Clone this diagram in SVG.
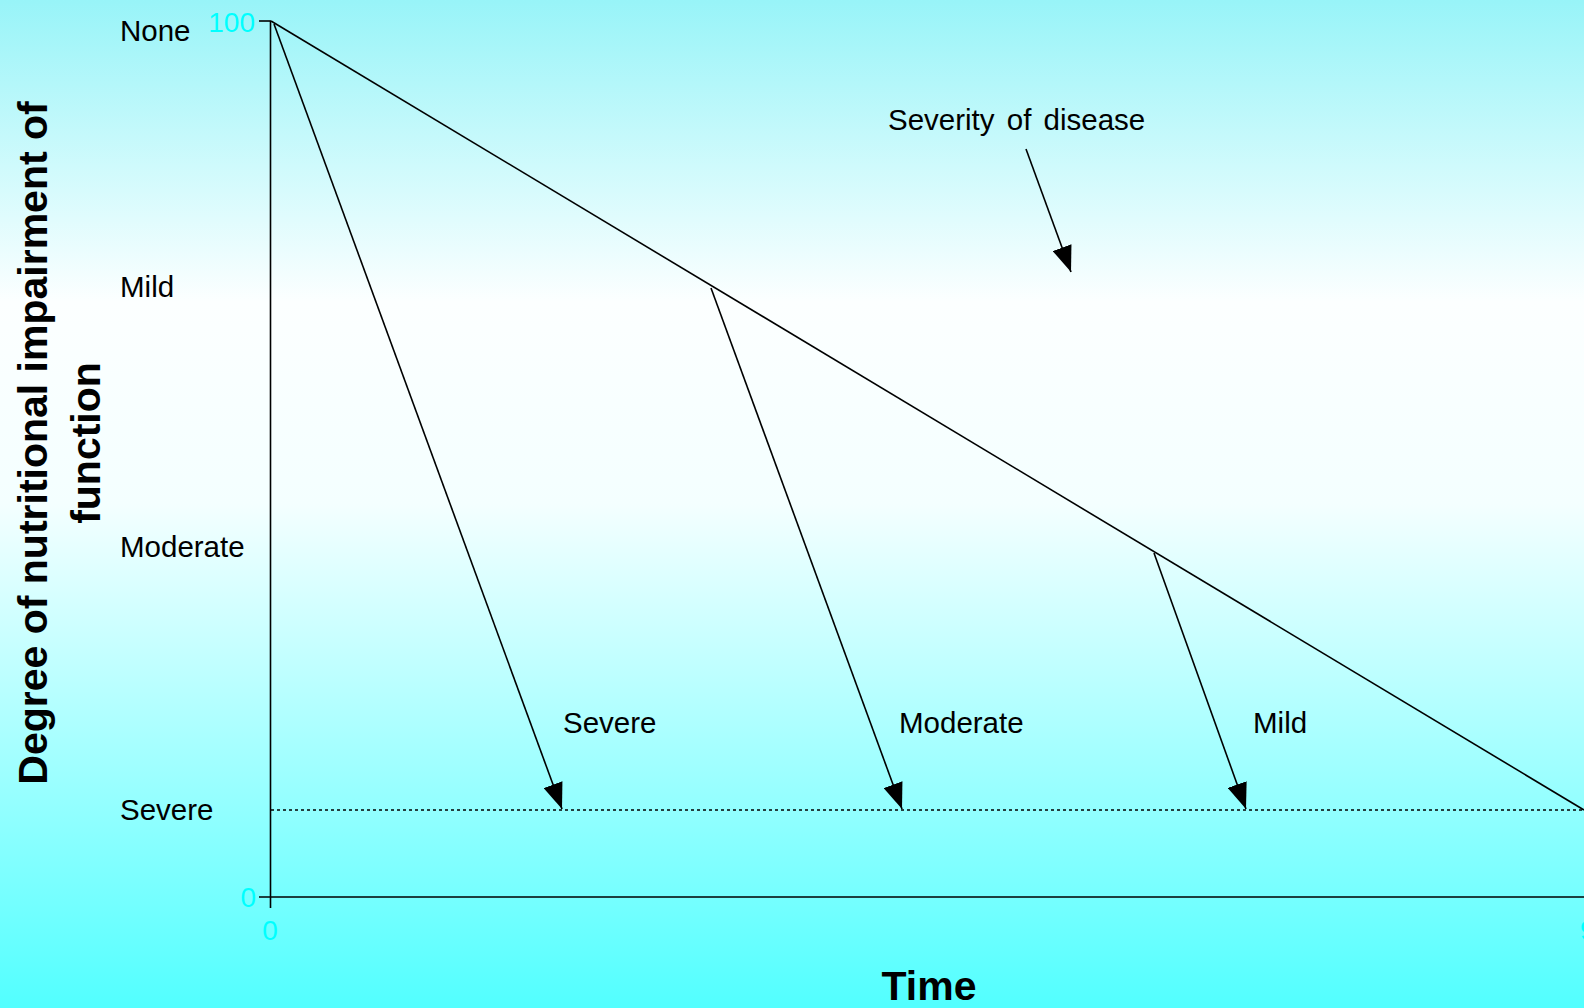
<svg xmlns="http://www.w3.org/2000/svg" width="1584" height="1008" viewBox="0 0 1584 1008">
<defs>
<linearGradient id="bg" x1="0" y1="0" x2="0" y2="1">
<stop offset="0" stop-color="#98F4F8"/>
<stop offset="0.3" stop-color="#FCFFFF"/>
<stop offset="0.5" stop-color="#F4FFFF"/>
<stop offset="1" stop-color="#52FFFF"/>
</linearGradient>
<marker id="ah" markerUnits="userSpaceOnUse" markerWidth="26" markerHeight="20" refX="26" refY="10" orient="auto">
<path d="M0,0 L26,10 L0,20 Z" fill="#000"/>
</marker>
<style>
.lbl{font-family:"Liberation Sans",Arial,sans-serif;font-size:29.5px;fill:#000}
.tick{font-family:"Liberation Sans",Arial,sans-serif;font-size:28px;fill:#00FFFF}
.title{font-family:"Liberation Sans",Arial,sans-serif;font-size:41px;font-weight:bold;fill:#000}
.ln{stroke:#000;stroke-width:1.6;fill:none}
.arr{stroke:#000;stroke-width:1.6;fill:none;marker-end:url(#ah)}
</style>
</defs>
<rect x="0" y="0" width="1584" height="1008" fill="url(#bg)"/>
<g id="axes">
<line class="ln" x1="270.5" y1="21" x2="270.5" y2="908"/>
<line class="ln" x1="259" y1="897" x2="1584" y2="897"/>
<line class="ln" x1="259" y1="21" x2="271" y2="21"/>
<text class="tick" x="255" y="32" text-anchor="end">100</text>
<text class="tick" x="256" y="907" text-anchor="end">0</text>
<text class="tick" x="270" y="940" text-anchor="middle">0</text>
<text class="tick" x="1580" y="940">9</text>
</g>
<g id="y-labels">
<text class="lbl" x="120" y="41">None</text>
<text class="lbl" x="120" y="297">Mild</text>
<text class="lbl" x="120" y="557">Moderate</text>
<text class="lbl" x="120" y="820">Severe</text>
</g>
<g id="axis-titles">
<text class="title" transform="translate(47,443) rotate(-90)" text-anchor="middle">Degree of nutritional impairment of</text>
<text class="title" transform="translate(100,443) rotate(-90)" text-anchor="middle">function</text>
<text class="title" x="929" y="1000" text-anchor="middle">Time</text>
</g>
<g id="connectors">
<line class="ln" x1="271" y1="21" x2="1584" y2="810"/>
<line class="ln" x1="271" y1="810" x2="1584" y2="810" stroke-dasharray="3,3"/>
<line class="arr" x1="274" y1="24" x2="562" y2="809"/>
<line class="arr" x1="711" y1="288" x2="902" y2="809"/>
<line class="arr" x1="1154" y1="553" x2="1246" y2="809"/>
<line class="arr" x1="1026" y1="149" x2="1071" y2="272"/>
</g>
<g id="curve-labels">
<text class="lbl" x="888" y="130" word-spacing="4">Severity of disease</text>
<text class="lbl" x="563" y="733">Severe</text>
<text class="lbl" x="899" y="733">Moderate</text>
<text class="lbl" x="1253" y="733">Mild</text>
</g>
</svg>
